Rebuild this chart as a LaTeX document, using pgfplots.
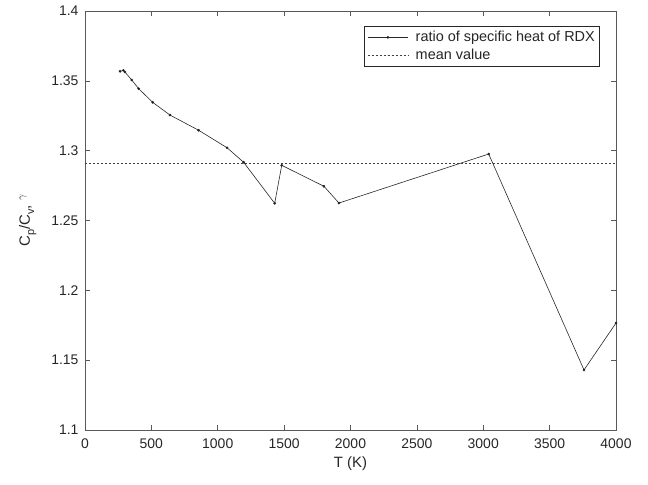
\documentclass[border=0pt]{standalone}
\usepackage{pgfplots}
\pgfplotsset{compat=1.18}
\usepackage{fontspec}
\setmainfont{Liberation Sans}

\definecolor{axgray}{gray}{0.35}
\definecolor{txtgray}{gray}{0.15}

\begin{document}
\begin{tikzpicture}
\begin{axis}[
  name=main,
  scale only axis,
  width=531bp, height=419bp,
  xmin=0, xmax=4000, ymin=1.1, ymax=1.4,
  xtick={0,500,...,4000},
  ytick={1.1,1.15,1.2,1.25,1.3,1.35,1.4},
  yticklabels={1.1,1.15,1.2,1.25,1.3,1.35,1.4},
  scaled ticks=false,
  /pgf/number format/1000 sep={},
  /pgf/number format/assume math mode=true,
  tick align=inside,
  major tick length=5bp,
  axis line style={axgray, line width=0.6pt},
  tick style={axgray, line width=0.6pt},
  ticklabel style={font=\fontsize{14}{16}\selectfont, text=txtgray},
  xticklabel style={yshift=-5bp},
  yticklabel style={xshift=-3bp},
  xlabel={T (K)},
  ylabel={C\raisebox{-0.55ex}{\fontsize{11}{13}\selectfont p}/C\raisebox{-0.55ex}{\fontsize{11}{13}\selectfont v}, \raisebox{0.7ex}{$\scriptstyle\gamma$}},
  label style={font=\fontsize{15}{17}\selectfont, text=txtgray},
  xlabel style={yshift=-1bp},
  ylabel style={yshift=8bp},
  legend style={
    at={(0.970,0.964)}, anchor=north east,
    draw=txtgray, line width=0.6pt,
    font=\fontsize{14.5}{17}\selectfont,
    text=txtgray,
    inner sep=3bp, row sep=2bp,
    legend cell align=left,
  },
  legend image post style={line width=0.6pt},
  legend image code/.code={
    \draw[mark repeat=2, mark phase=2, #1]
      plot coordinates {(0cm,0cm) (0.72cm,0cm) (1.44cm,0cm)};
    \path (1.62cm,0cm);
  },
]
% ratio of specific heats of RDX versus temperature
\addplot[color=black!85, line width=0.6pt, mark=*, mark size=1.0bp,
         mark options={fill=black}] coordinates {
  (264,1.3568) (289,1.3575) (301,1.3563) (352,1.3506) (404,1.3444)
  (510,1.3346) (640,1.3255) (856,1.3146) (1070,1.3021) (1195,1.2917)
  (1429,1.2623) (1482,1.2895) (1800,1.2745) (1913,1.2625) (3041,1.2976)
  (3759,1.1430) (4000,1.1766)
};
\addlegendentry{ratio of specific heat of RDX}
% mean value over the temperature range
\addplot[color=black!75, line width=0.6pt, dash pattern=on 2.2bp off 1.8bp]
  coordinates {(0,1.2910) (4000,1.2910)};
\addlegendentry{mean value}
\end{axis}
\path[use as bounding box] ([shift={(-85bp,-55bp)}]main.south west)
  rectangle ([shift={(32bp,11bp)}]main.north east);
\end{tikzpicture}
\end{document}
